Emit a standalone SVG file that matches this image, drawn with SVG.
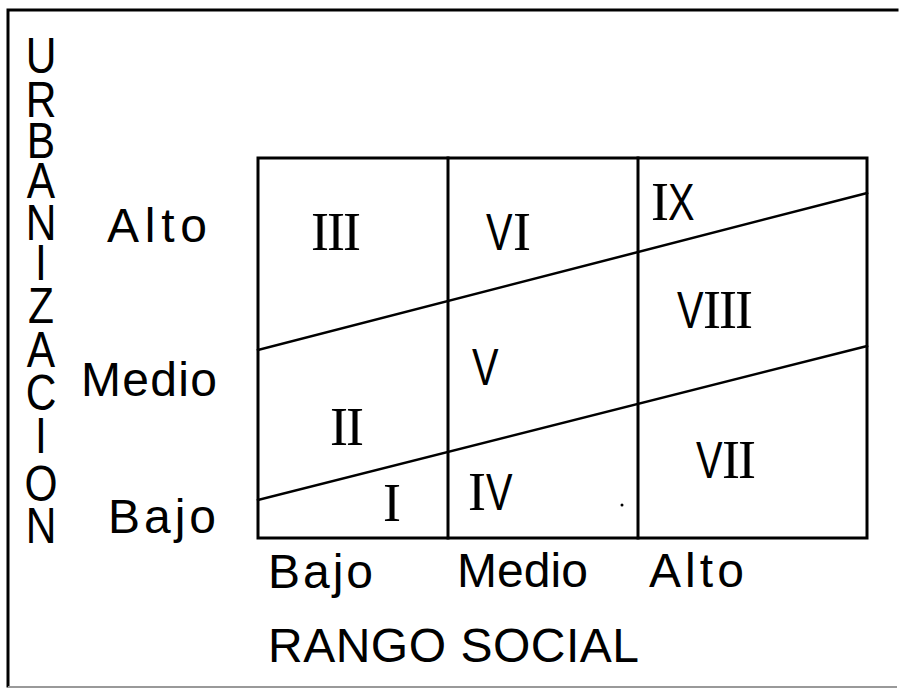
<svg xmlns="http://www.w3.org/2000/svg" width="901" height="689" viewBox="0 0 901 689">
<style>
  .ln{stroke:#000;fill:none;stroke-linecap:square}
  .lbl{font-family:"Liberation Sans",Arial,sans-serif;font-size:48px;fill:#000}
  .vt{font-family:"Liberation Sans",Arial,sans-serif;font-size:50px;fill:#000;text-anchor:middle}
  .rI{font-family:"Liberation Serif","Times New Roman",serif;font-size:54px;fill:#000}
  .rV{font-family:"Liberation Sans",Arial,sans-serif;font-size:51px;fill:#000}
</style>
<rect width="901" height="689" fill="#fff"/>
<g id="frame">
  <path class="ln" d="M897 10 H8 V686" stroke-width="3"/>
  <path d="M8 687 H897" stroke="#999" stroke-width="2" fill="none"/>
</g>
<g id="axis-y">
  <g transform="translate(41,0) scale(0.85,1)">
    <text class="vt" x="0 0 0 0 0 0 0 0 0 0 0 0" y="73 117 158 198 240 280 323 367 410 453 501 543">URBANIZACION</text>
  </g>
  <text class="lbl" x="107" y="242" textLength="100" lengthAdjust="spacing">Alto</text>
  <text class="lbl" x="81" y="396" textLength="136">Medio</text>
  <text class="lbl" x="108" y="533" textLength="108">Bajo</text>
</g>
<g id="axis-x">
  <text class="lbl" x="268" y="588" textLength="105">Bajo</text>
  <text class="lbl" x="457" y="587" textLength="131">Medio</text>
  <text class="lbl" x="649" y="587" textLength="95">Alto</text>
  <text class="lbl" x="268" y="662" textLength="371">RANGO SOCIAL</text>
</g>
<g id="grid">
  <rect class="ln" x="258" y="158" width="609" height="380" stroke-width="3"/>
  <line class="ln" x1="448" y1="158" x2="448" y2="538" stroke-width="3"/>
  <line class="ln" x1="638" y1="158" x2="638" y2="538" stroke-width="3"/>
</g>
<g id="connectors">
  <line class="ln" x1="258" y1="350" x2="867" y2="193" stroke-width="2.5"/>
  <line class="ln" x1="258" y1="500" x2="867" y2="346" stroke-width="2.5"/>
</g>
<g id="zone-I"><text class="rI" x="383" y="521">I</text></g>
<g id="zone-II"><text class="rI" x="330 346" y="445">II</text></g>
<g id="zone-III"><text class="rI" x="311 327 343" y="250">III</text></g>
<g id="zone-IV"><text class="rI" x="468" y="510">I</text><text class="rV" transform="translate(486,510) scale(0.78,1)">V</text></g>
<g id="zone-V"><text class="rV" transform="translate(472,385) scale(0.78,1)">V</text></g>
<g id="zone-VI"><text class="rV" transform="translate(486,250) scale(0.78,1)">V</text><text class="rI" x="513" y="250">I</text></g>
<g id="zone-VII"><text class="rV" transform="translate(696,478) scale(0.78,1)">V</text><text class="rI" x="722 738" y="478">II</text></g>
<g id="zone-VIII"><text class="rV" transform="translate(677,328) scale(0.78,1)">V</text><text class="rI" x="703 719 735" y="328">III</text></g>
<g id="zone-IX"><text class="rI" x="651" y="220">I</text><text class="rV" transform="translate(668,220) scale(0.78,1)">X</text></g>
<circle cx="622" cy="505" r="1.5" fill="#000"/>
</svg>
